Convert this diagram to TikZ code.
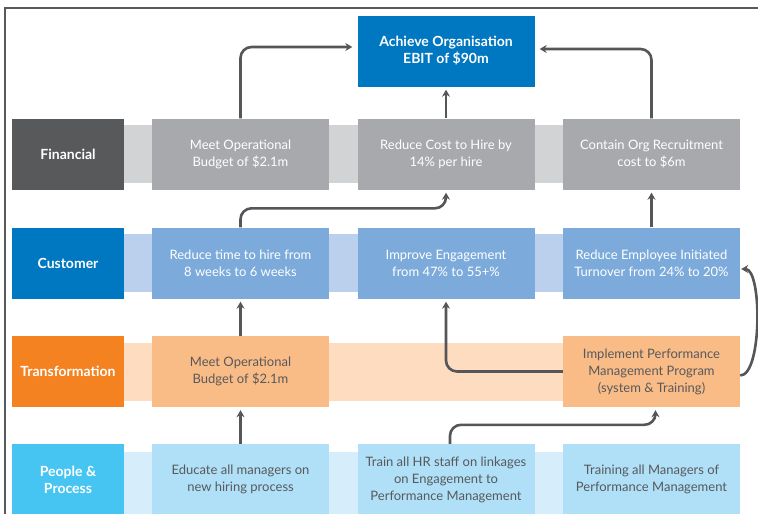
\documentclass[tikz,border=0pt]{standalone}
\usepackage{fontspec}
\setmainfont{Lato}
\usetikzlibrary{arrows.meta}

\definecolor{finDark}{HTML}{58595B}
\definecolor{finBox}{HTML}{A7A9AC}
\definecolor{finBand}{HTML}{D1D3D4}
\definecolor{custDark}{HTML}{0077C1}
\definecolor{custBox}{HTML}{7BAADB}
\definecolor{custBand}{HTML}{BAD0EC}
\definecolor{tranDark}{HTML}{F58220}
\definecolor{tranBox}{HTML}{F9BC87}
\definecolor{tranBand}{HTML}{FDDCBF}
\definecolor{pplDark}{HTML}{46C5F2}
\definecolor{pplBox}{HTML}{AFE0F7}
\definecolor{pplBand}{HTML}{D6EEFB}
\definecolor{linkGray}{HTML}{555659}

\begin{document}
\begin{tikzpicture}[x=1pt,y=-1pt,
    lane/.style={minimum width=112pt, minimum height=71pt, inner sep=0pt,
        align=center, text=white, font=\fontsize{14}{17}\selectfont\bfseries},
    objective/.style={minimum width=177pt, minimum height=71pt, inner sep=0pt,
        align=center, font=\fontsize{13}{17}\selectfont},
    link/.style={draw=linkGray, line width=2.6pt, rounded corners=11pt,
        -{Stealth[length=7pt,width=8pt]}, shorten >=3pt}
    ]
    \useasboundingbox (0,0) rectangle (758,514);
    \fill[white] (0,0) rectangle (758,514);
    \draw[finDark, line width=1.2pt] (5,514) -- (5,8) -- (758,8);

    % Goal
    \node[objective, fill=custDark, text=white, font=\fontsize{14}{17}\selectfont\bfseries]
        (goal) at (446,51) {Achieve Organisation\\EBIT of \$90m};

    % Financial
    \fill[finBand] (124,125) rectangle (563,183);
    \node[lane, fill=finDark] (finLbl) at (68,154) {Financial};
    \foreach \id/\cx/\lbl in {
        f1/240.5/{Meet Operational\\Budget of \$2.1m},
        f2/446/{Reduce Cost to Hire by\\14\% per hire},
        f3/651.5/{Contain Org Recruitment\\cost to \$6m}}
        \node[objective, fill=finBox, text=white] (\id) at (\cx,154) {\lbl};

    % Customer
    \fill[custBand] (124,234) rectangle (563,292);
    \node[lane, fill=custDark] (custLbl) at (68,263) {Customer};
    \foreach \id/\cx/\lbl in {
        c1/240.5/{Reduce time to hire from\\8 weeks to 6 weeks},
        c2/446/{Improve Engagement\\from 47\% to 55+\%},
        c3/651.5/{Reduce Employee Initiated\\Turnover from 24\% to 20\%}}
        \node[objective, fill=custBox, text=white] (\id) at (\cx,263) {\lbl};

    % Transformation
    \fill[tranBand] (124,343) rectangle (563,401);
    \node[lane, fill=tranDark] (tranLbl) at (68,371.5) {Transformation};
    \foreach \id/\cx/\lbl in {
        t1/240.5/{Meet Operational\\Budget of \$2.1m},
        t3/651.5/{Implement Performance\\Management Program\\(system \& Training)}}
        \node[objective, fill=tranBox, text=finDark] (\id) at (\cx,371.5) {\lbl};

    % People & Process
    \fill[pplBand] (124,452) rectangle (563,514);
    \node[lane, fill=pplDark] (pplLbl) at (68,479.5) {People \&\\Process};
    \foreach \id/\cx/\lbl in {
        p1/240.5/{Educate all managers on\\new hiring process},
        p2/446/{Train all HR staff on linkages\\on Engagement to\\Performance Management},
        p3/651.5/{Training all Managers of\\Performance Management}}
        \node[objective, fill=pplBox, text=finDark] (\id) at (\cx,479.5) {\lbl};

    % links
    \draw[link, shorten >=5pt] (f1.north) |- ([yshift=4pt]goal.west);
    \draw[link] (f2.north) -- (goal.south);
    \draw[link, shorten >=5pt] (f3.north) |- ([yshift=2pt]goal.east);
    \draw[link] (c1.north) -- ++(0,-19) -| (f2.south);
    \draw[link] (c3.north) -- (f3.south);
    \draw[link] (t1.north) -- (c1.south);
    \draw[link] (p1.north) -- (t1.south);
    \draw[link] (t3.west) -| (c2.south);
    \draw[link, shorten >=1pt] ([yshift=-4pt]t3.east) .. controls +(22,0) and +(22,0) .. ([yshift=-6pt]c3.east);
    \draw[link] ([xshift=4pt]p2.north) -- ++(0,-19) -| ([xshift=4pt]t3.south);
\end{tikzpicture}
\end{document}
